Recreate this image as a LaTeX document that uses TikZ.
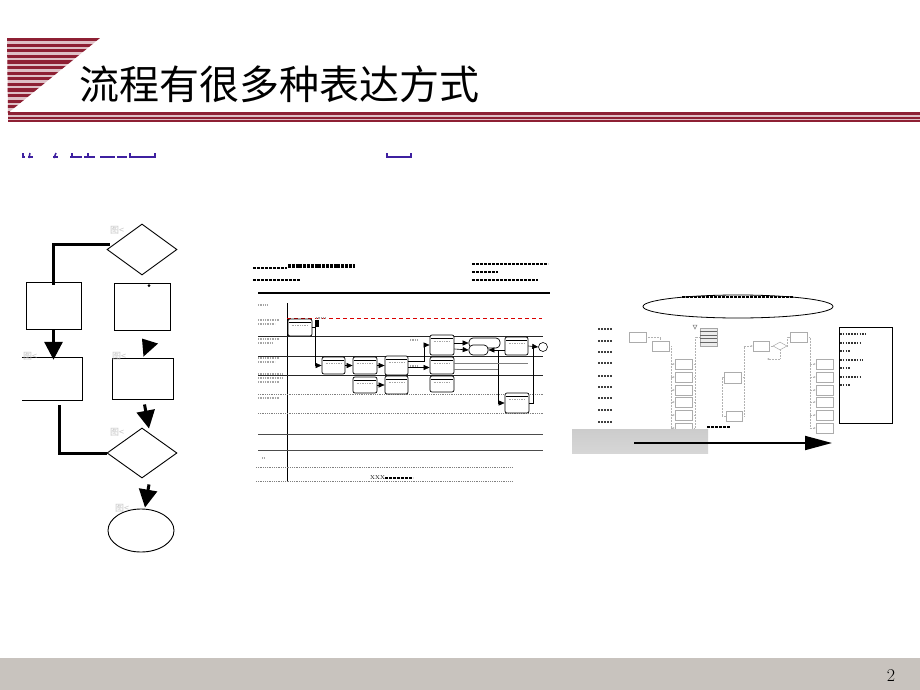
\documentclass[tikz,border=0pt]{standalone}
\usepackage{fontspec}
\newfontfamily\cjk{Noto Sans CJK SC}
\usetikzlibrary{shapes.geometric,arrows.meta,calc}
\definecolor{maroon}{RGB}{142,32,52}
\definecolor{pinkl}{RGB}{222,192,198}
\definecolor{footc}{RGB}{200,195,190}
\definecolor{purp}{RGB}{62,32,160}
\begin{document}
\begin{tikzpicture}[x=1pt,y=-1pt,
 fc/.style={draw, line width=0.9, inner sep=0, fill=white},
 thickarr/.style={line width=3, -{Triangle[length=18pt,width=18pt]}},
 thickln/.style={line width=3},
 glab/.style={text=gray!45, font=\cjk\fontsize{9}{9}\selectfont, inner sep=0, anchor=south west},
 mbox/.style={draw, rounded corners=2, line width=0.7, inner sep=0, fill=white},
 marr/.style={line width=0.6, -{Triangle[length=6pt,width=5pt]}},
 gtext/.style={gray!70, line width=1.2, dash pattern=on 1pt off 0.7pt},
 gblack/.style={black, line width=2.6, dash pattern=on 2.6pt off 1.4pt},
 rbox/.style={draw=gray!65, line width=0.5, inner sep=0, fill=white},
 rline/.style={gray!60, line width=0.5, densely dotted},
 rarr/.style={rline, -{Latex[length=2pt,width=2pt]}},
]
\useasboundingbox (0,0) rectangle (920,690);
\fill[white] (0,0) rectangle (920,690);

% ---------- title decoration ----------
\begin{scope}
\clip (7,38) -- (100,38) -- (8,113) -- cycle;
\fill[pinkl] (0,38) rectangle (100,113);
\foreach \y in {38,43.6,...,113} \fill[maroon] (0,\y) rectangle (100,\y+3.2);
\end{scope}
\fill[maroon] (8,112) rectangle (920,122);
\fill[pinkl] (8,115.3) rectangle (920,116.6);
\fill[pinkl] (8,119) rectangle (920,120);
\node[anchor=base west, inner sep=0, font=\cjk\fontsize{40}{40}\selectfont] (title) at (79,100) {流程有很多种表达方式};

% ---------- clipped purple subtitle marks ----------
\foreach \a/\b in {22/25,28/33,53/58,70/82,84/95,100/115,117/127,130/155,386/412}
  \draw[purp, line width=2] (\a,157) -- (\b,157);
\foreach \a/\b in {23/23,30/29,56/54,72/72,88/88,130/130,155/155,387/387,411/411}
  \draw[purp, line width=1.5] (\a,153) -- (\b,158);

% ---------- footer ----------
\fill[footc] (0,658) rectangle (920,690);
\node[font=\fontsize{18}{18}\selectfont, inner sep=0] (pg) at (891,676) {2};

% ---------- left flowchart ----------
\node[fc, diamond, minimum width=70, minimum height=51] (d1) at (142,249.5) {};
\node[fc, minimum width=55, minimum height=47] (r1) at (53.5,305.5) {};
\node[fc, minimum width=56, minimum height=47] (r2) at (142,306.5) {};
\node[inner sep=0, minimum width=60, minimum height=42] (r3) at (52,379) {};
\draw[line width=0.9] (r3.north west) -- (r3.north east) -- (r3.south east) -- (r3.south west);
\node[fc, minimum width=61, minimum height=41] (r4) at (142.5,378.5) {};
\node[fc, diamond, minimum width=70, minimum height=50] (d2) at (142,453) {};
\node[fc, ellipse, minimum width=66, minimum height=43] (e1) at (141,530.5) {};
\fill ($(r2.north)+(7,3)$) circle (1.5);

\draw[thickln] ($(d1.west)+(3,-5)$) -| ($(r1.north)+(0,3)$);
\draw[thickarr] (r1.south) -- ($(r1.south |- r3.north)+(0,2)$);
\fill ($(r4.north)+(1,-1)$) -- ($(r4.north)+(-0.5,-19)$) -- ($(r4.north)+(15.5,-14)$) -- cycle;
\draw[thickarr] ($(r4.south)+(2,5)$) -- ($(d2.north)+(7,1)$);
\draw[thickln] ($(r3.south)+(7,5)$) |- (d2.west);
\draw[thickarr] ($(d2.south)+(7,6)$) -- ($(e1.north)+(4,-1)$);

\node[glab] (l1) at (110,234) {图<};
\node[glab] (l4) at (23,360) {图<};
\node[glab] (l5) at (112,360) {图<};
\node[glab] (l6) at (110,436) {图<};
\node[glab] (l7) at (115,512) {图<};

% ---------- middle swimlane diagram ----------
\draw[gblack] (253,268) -- (287,268);
\draw[black, line width=3.4, dash pattern=on 3pt off 0.8pt] (288,266) -- (355,266);
\draw[gblack] (253,280) -- (300,280);
\draw[gblack] (472,264) -- (548,264);
\draw[gblack] (472,272) -- (498,272);
\draw[gblack] (472,280) -- (538,280);
\draw[line width=2.2] (258,293) -- (550,293);
\draw[line width=0.8] (287,303) -- (287,481);
\draw[red!85!black, line width=0.8, dash pattern=on 4pt off 3pt] (287,318) -- (542,318);
\foreach \y in {336,356,375} \draw[black!85, line width=0.8] (258,\y) -- (543,\y);
\foreach \y in {434,450} \draw[black!70, line width=0.8] (258,\y) -- (543,\y);
\foreach \y in {394,413} \draw[gray, line width=0.8, densely dotted] (258,\y) -- (543,\y);
\foreach \y in {467,481} \draw[gray, line width=0.8, densely dotted] (256,\y) -- (512,\y);
\foreach \y/\l in {305/268,320/280,324/275,339/280,343/272,358/280,362/275,374/282,378/282,382/280,398/280}
  \draw[gtext] (258,\y) -- (\l,\y);
\draw[gtext] (262,458) -- (265,458);
\node[font=\fontsize{5.5}{5.5}\selectfont, inner sep=0, anchor=west] (xxx) at (370,478) {XXX};
\draw[gblack, line width=1.8] (385,478) -- (413,478);

\node[mbox, minimum width=24, minimum height=17] (m1) at (300,327.5) {};
\node[mbox, minimum width=23, minimum height=17] (m2) at (333.5,365.5) {};
\node[mbox, minimum width=24, minimum height=17] (m3) at (365,365.5) {};
\node[mbox, minimum width=23, minimum height=19] (m4) at (396.5,365.5) {};
\node[mbox, minimum width=24, minimum height=16] (m5) at (365,385) {};
\node[mbox, minimum width=23, minimum height=18] (m6) at (396.5,385) {};
\node[mbox, minimum width=24, minimum height=20] (m7) at (442,345) {};
\node[mbox, minimum width=24, minimum height=17] (m8) at (442,365.5) {};
\node[mbox, minimum width=24, minimum height=16] (m9) at (442,384) {};
\node[mbox, rounded corners=4, minimum width=31, minimum height=10] (m10a) at (484.5,343) {};
\node[mbox, rounded corners=4, minimum width=19, minimum height=10] (m10b) at (478.5,350) {};
\node[mbox, minimum width=23, minimum height=18] (m11) at (516.5,346) {};
\node[mbox, minimum width=24, minimum height=20] (m12) at (517,403) {};
\node[draw, circle, line width=0.6, minimum size=9, inner sep=0] (mend) at (543,347) {};
\foreach \n in {m1,m2,m3,m4,m5,m6,m7,m8,m9,m11,m12}{
  \draw[line width=0.5] ($(\n.north west)+(1,4)$) -- ($(\n.north east)+(-1,4)$);
  \draw[gtext] ($(\n.north west)+(4,7)$) -- ($(\n.north east)+(-4,7)$);
}
\fill (315,320) rectangle (319,327);
\draw[gtext] (316,318) -- (326,318);

\draw[marr] (m1.east) -- ++(3,0) |- (m2.west);
\draw[marr] (m2.east) -- (m3.west);
\draw[marr] (m3.east) -- (m4.west);
\draw[marr] (m5.east) -- (m6.west);
\draw[marr] ($(m4.east)+(0,-4)$) -| ($(m7.west)+(-5,0)$) -- (m7.west);
\draw[marr] ($(m4.east)+(0,2)$) -- ($(m8.west)+(0,2)$);
\draw[marr] ($(m7.east)+(0,-2)$) -- (m10a.west);
\draw[marr] ($(m7.east)+(0,4)$) -- (m10b.west);
\draw[marr] ($(m11.west)+(0,4)$) -- (m10b.east);
\draw[marr] ($(m10b.east)+(10,0)$) |- (m12.west);
\draw[marr] (m11.east) -- (mend.west);
\draw[line width=0.6] (m12.east) -| ($(m11.east)!0.5!(mend.west)$);
\draw[gray, line width=0.5] ($(m8.east)+(0,-2)$) -- ($(m8.east -| mend.west)+(-10,-2)$);
\draw[gray, line width=0.5] ($(m8.east)+(0,4)$) -- ($(m8.east -| m12.west)+(-7,4)$);
\draw[gtext] (410,340) -- (418,340);
\draw[gtext] (410,366) -- (418,366);

% ---------- right diagram ----------
\node[draw, ellipse, line width=0.8, minimum width=190, minimum height=23, inner sep=0] (ell) at (738,306.5) {};
\draw[gblack, line width=2.4] (682,297) -- (793,297);
\foreach \y in {329,341,352,363,376,387,398,410,422}
  \draw[black!75, line width=1.6, dash pattern=on 1.6pt off 1.5pt] (598,\y) -- (612,\y);

\node[rbox, minimum width=17, minimum height=10] (ra) at (637.5,337) {};
\node[rbox, minimum width=17, minimum height=10] (rb) at (660.5,346) {};
\foreach \i/\y in {1/364,2/377,3/390,4/402,5/415,6/428}{
  \node[rbox, minimum width=17, minimum height=10] (L\i) at (683.5,\y) {};
  \node[rbox, minimum width=17, minimum height=10] (R\i) at (824.5,\y) {};
}
\node[draw=gray!70, fill=gray!15, line width=0.5, minimum width=17, minimum height=18, inner sep=0] (rl) at (708.5,337) {};
\foreach \k in {1,2,3,4} \draw[black!60, line width=0.7] ($(rl.north west)+(0,3.6*\k)$) -- ($(rl.north east)+(0,3.6*\k)$);
\draw[gray, line width=0.5] (693,325) -- (697,325) -- (695,329) -- cycle;
\node[rbox, minimum width=17, minimum height=11] (rc) at (732.5,377.5) {};
\node[rbox, minimum width=16, minimum height=10] (rd) at (734,416) {};
\node[rbox, minimum width=16, minimum height=10] (re) at (761,346) {};
\node[draw=gray!65, diamond, line width=0.5, minimum width=14, minimum height=8, inner sep=0] (rf) at (780,346) {};
\node[rbox, minimum width=17, minimum height=10] (rg) at (798.5,337) {};
\coordinate (rh) at (767,359);
\node[draw, line width=0.8, minimum width=53, minimum height=96, inner sep=0] (big) at (865.5,375) {};
\foreach \y/\l in {334/866,343/862,351/851,360/863,368/850,377/862,385/850}
  \draw[black!80, line width=1.5, dash pattern=on 1.6pt off 1.2pt] (840,\y) -- (\l,\y);

\draw[rline] (ra.east) -| (rb.north);
\draw[rline] (rb.east) -| ($(L6.west)+(-4,0)$);
\foreach \i in {1,...,6} \draw[rarr] ($(L\i.west)+(-4,0)$) -- (L\i.west);
\draw[rline] (L6.east) -| ($(rl.west)+(-5,0)$) -- (rl.west);
\foreach \i in {1,...,5} \draw[rline] (L\i.east) -- ($(L\i.east)+(3,0)$);
\draw[rline] (rd.west) -- ++(-4,0) |- (rc.west);
\draw[rline] (rc.east) -- ++(3,0);
\draw[rline] (rd.east) -| ($(re.west)+(-9,0)$);
\draw[rarr] ($(re.west)+(-9,0)$) -- (re.west);
\draw[rline] (re.east) -- (rf.west);
\draw[rline] (rf.east) -| ($(rg.west)+(-3,0)$) -- (rg.west);
\draw[rarr] (rf.south) |- (rh);
\draw[rline] (rg.east) -| ($(R6.west)+(-6,0)$);
\foreach \i in {1,...,6} \draw[rarr] ($(R\i.west)+(-6,0)$) -- (R\i.west);

\shade[top color=gray!40, middle color=gray!10, bottom color=gray!32] (572,429) rectangle (708,453);
\draw[gblack, line width=2.4] (707,427) -- (730,427);
\coordinate (as) at (634,443);
\coordinate (ae) at (832,443);
\draw[line width=1.8, -{Triangle[length=27pt,width=14pt]}] (as) -- (ae);
\end{tikzpicture}
\end{document}
